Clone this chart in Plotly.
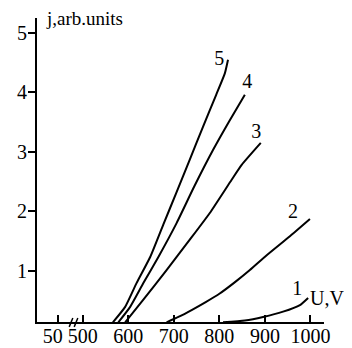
import plotly.graph_objects as go

# Curve data (U in V, j in arb. units)
u1 = [808, 856, 896, 940, 977, 995]
j1 = [0.13, 0.16, 0.22, 0.31, 0.42, 0.54]
u2 = [684, 710, 740, 770, 800, 835, 867, 904, 955, 999]
j2 = [0.13, 0.22, 0.34, 0.47, 0.61, 0.81, 1.01, 1.26, 1.58, 1.87]
u3 = [593, 633, 684, 735, 779, 827, 849, 891]
j3 = [0.13, 0.51, 1.01, 1.52, 1.97, 2.53, 2.78, 3.15]
u4 = [578, 604, 633, 666, 706, 745, 786, 822, 856]
j4 = [0.13, 0.39, 0.79, 1.23, 1.80, 2.42, 3.03, 3.52, 3.96]
u5 = [566, 593, 618, 648, 677, 706, 735, 764, 793, 812, 819]
j5 = [0.13, 0.39, 0.79, 1.23, 1.78, 2.32, 2.87, 3.42, 3.96, 4.32, 4.55]

curve_labels = ["1", "2", "3", "4", "5"]
label_u = [971, 962, 881, 861, 800]
label_j = [0.67, 1.97, 3.32, 4.16, 4.55]

x_tickvals = [445, 500, 600, 700, 800, 900, 1000]
x_ticktext = ["50\u2002", "500", "600", "700", "800", "900", "1000"]
y_tickvals = [1, 2, 3, 4, 5]
y_ticktext = ["1", "2", "3", "4", "5"]

FONT = "Liberation Serif"

fig = go.Figure()
for u, j in [(u1, j1), (u2, j2), (u3, j3), (u4, j4), (u5, j5)]:
    fig.add_trace(go.Scatter(x=u, y=j, mode="lines",
                             line=dict(color="black", width=2, shape="spline", smoothing=0.5),
                             showlegend=False, hoverinfo="skip"))

fig.add_trace(go.Scatter(x=label_u, y=label_j, mode="text", text=curve_labels,
                         textfont=dict(family=FONT, size=20, color="black"),
                         showlegend=False, hoverinfo="skip", cliponaxis=False))

# page body has an 8px default margin, so the figure is sized to fit the 352x348 window
fig.update_layout(
    width=344, height=340,
    margin=dict(l=29, r=28, t=10, b=26),
    paper_bgcolor="white", plot_bgcolor="white",
    font=dict(family=FONT, size=20, color="black"),
    xaxis=dict(range=[399.3, 1029.9], showgrid=False, zeroline=False,
               showline=True, linecolor="black", linewidth=2,
               ticks="inside", ticklen=7, tickwidth=2, tickcolor="black",
               tickvals=x_tickvals, ticktext=x_ticktext, tickangle=0,
               automargin=False, ticklabelstandoff=-5,
               tickfont=dict(family=FONT, size=20)),
    yaxis=dict(range=[0.135, 5.253], showgrid=False, zeroline=False,
               showline=True, linecolor="black", linewidth=2,
               ticks="outside", ticklen=7, tickwidth=2, tickcolor="black",
               tickvals=y_tickvals, ticktext=y_ticktext, automargin=False,
               ticklabelstandoff=-3,
               tickfont=dict(family=FONT, size=20)),
    annotations=[
        dict(text="j,arb.units", xref="paper", yref="paper", x=0.024, y=0.998,
             xanchor="left", yanchor="middle", showarrow=False,
             font=dict(family=FONT, size=19)),
        dict(text="U,V", xref="paper", yref="paper", x=1.011, y=0.079,
             xanchor="center", yanchor="middle", showarrow=False,
             font=dict(family=FONT, size=20)),
    ],
    shapes=[
        dict(type="line", xref="x", yref="paper", x0=470, x1=478, y0=-0.016, y1=0.013,
             line=dict(color="black", width=1.5)),
        dict(type="line", xref="x", yref="paper", x0=481, x1=489, y0=-0.016, y1=0.013,
             line=dict(color="black", width=1.5)),
    ],
)

fig.write_html("out.html")
